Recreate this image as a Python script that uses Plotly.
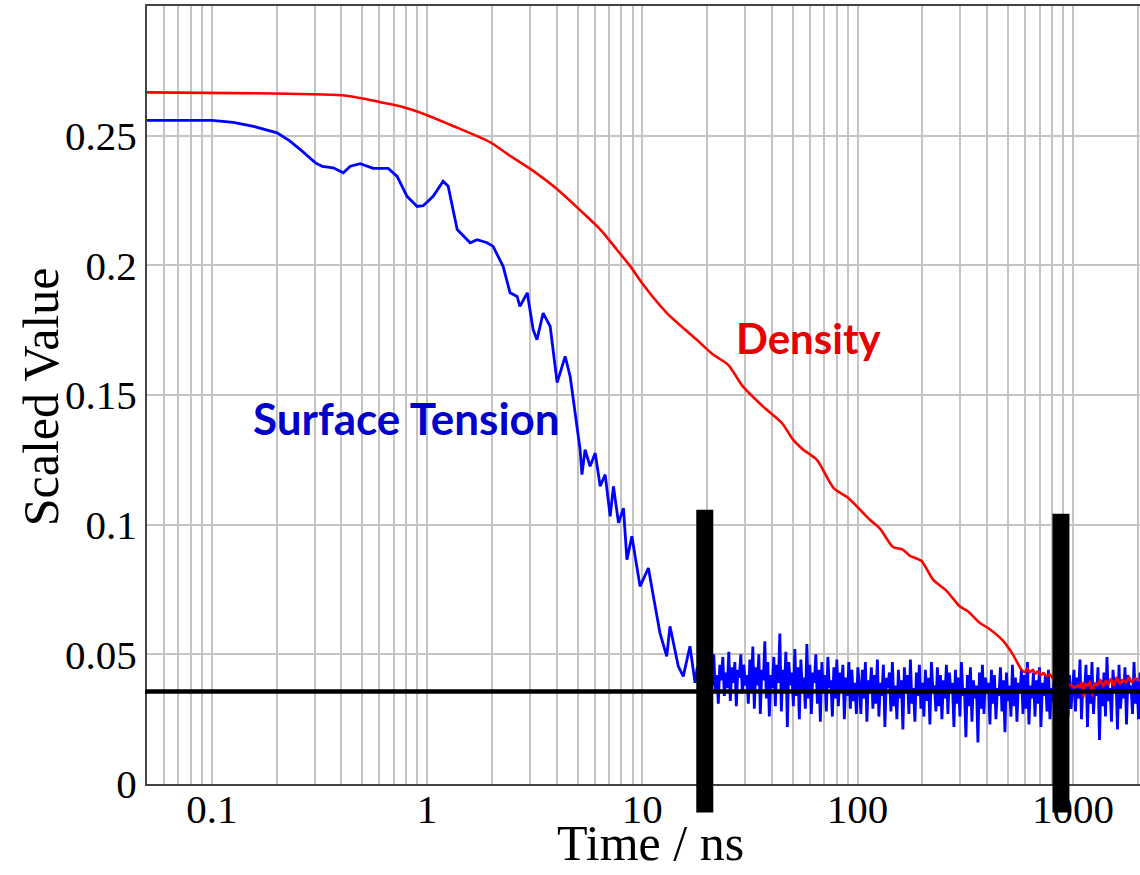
import numpy as np
import plotly.graph_objects as go

# ---------------- data ----------------
# Density (red)
density_t = [0.05, 0.4, 0.49, 0.6, 0.75, 1.0, 1.28, 1.96, 2.43, 3.1, 4.0, 5.1, 6.4, 7.6, 8.8, 10.1,
             13.0, 17.9, 21.3, 25.0, 29.3, 36.3, 44.5, 50.1, 55.7, 64.7, 77.6, 90.2, 114, 127,
             146, 162, 175, 198, 224, 260, 298, 325, 370, 411, 473, 526, 577, 600, 615, 630, 651,
             670, 690, 710, 730, 757, 780, 807, 830, 860, 900, 950, 990, 1020, 1050, 1080, 1100,
             1120, 1140, 1170, 1200, 1230, 1260, 1300, 1340, 1380, 1420, 1460, 1500, 1550, 1600,
             1650, 1700, 1760, 1820, 1880, 1950, 2050]
density_v = [0.2667, 0.2656, 0.2645, 0.2630, 0.2613, 0.2579, 0.2542, 0.2475, 0.2422, 0.2365,
             0.2295, 0.2215, 0.2137, 0.2061, 0.1996, 0.1925, 0.1816, 0.1713, 0.1656, 0.1617,
             0.1533, 0.1456, 0.1392, 0.1328, 0.1290, 0.1250, 0.1140, 0.1104, 0.1019, 0.0985,
             0.0914, 0.0904, 0.0880, 0.0860, 0.0788, 0.0743, 0.0685, 0.0666, 0.0621, 0.0597,
             0.0553, 0.0500, 0.0441, 0.0432, 0.0446, 0.0430, 0.0440, 0.0425, 0.0436, 0.0420,
             0.0428, 0.0415, 0.0424, 0.0409, 0.0420, 0.0400, 0.0395, 0.0385, 0.0378, 0.0372,
             0.0380, 0.0374, 0.0392, 0.0336, 0.0385, 0.0378, 0.0395, 0.0340, 0.0388, 0.0380,
             0.0402, 0.0376, 0.0398, 0.0384, 0.0405, 0.0380, 0.0410, 0.0386, 0.0402, 0.0390,
             0.0412, 0.0392, 0.0408, 0.0395]

# Surface tension (blue): decay part
tension_t = [0.05, 0.1, 0.126, 0.156, 0.201, 0.23, 0.258, 0.303, 0.326, 0.367, 0.408, 0.44, 0.489,
             0.562, 0.66, 0.726, 0.807, 0.899, 0.959, 1.067, 1.188, 1.253, 1.38, 1.585, 1.709,
             1.901, 2.027, 2.255, 2.43, 2.62, 2.70, 2.92, 3.11, 3.24, 3.46, 3.73, 4.02, 4.38,
             4.62, 4.87, 5.14, 5.24, 5.42, 5.72, 6.04, 6.37, 6.72, 7.09, 7.34, 7.75, 8.17, 8.48,
             8.94, 9.76, 10.67, 11.25, 12.08, 12.98, 13.44, 14.69, 15.49, 16.64, 17.57]
tension_v = [0.2559, 0.2559, 0.2551, 0.2536, 0.2511, 0.2480, 0.2446, 0.2395, 0.2382, 0.2376,
             0.2357, 0.2382, 0.2392, 0.2374, 0.2374, 0.2343, 0.2266, 0.2227, 0.2230, 0.2266,
             0.2324, 0.2305, 0.2138, 0.2087, 0.2099, 0.2087, 0.2073, 0.1996, 0.1894, 0.1880,
             0.1842, 0.1894, 0.1752, 0.1713, 0.1816, 0.1765, 0.1548, 0.1649, 0.1572, 0.1431,
             0.1289, 0.1193, 0.1289, 0.1225, 0.1276, 0.1148, 0.1193, 0.1032, 0.1148, 0.1007,
             0.1064, 0.0865, 0.0955, 0.0762, 0.0833, 0.0724, 0.0582, 0.0492, 0.0608, 0.0454,
             0.0415, 0.0531, 0.0390]

# Surface tension (blue): fluctuating plateau, sampled from 18 ns to 2050 ns
plateau_start, plateau_end = 18.0, 2050.0
plateau_v = [
    0.045, 0.039, 0.048, 0.041, 0.036, 0.052, 0.040, 0.044, 0.033, 0.047, 0.038, 0.050, 0.035,
    0.042, 0.031, 0.046, 0.040, 0.049, 0.034, 0.043, 0.037, 0.051, 0.032, 0.045, 0.039, 0.047,
    0.030, 0.044, 0.041, 0.050, 0.035, 0.046, 0.038,
    0.042, 0.031, 0.048, 0.036, 0.053, 0.029, 0.045, 0.038, 0.050, 0.027, 0.044, 0.040, 0.055,
    0.033, 0.047, 0.026, 0.042, 0.037, 0.049, 0.030, 0.046, 0.039, 0.058, 0.028, 0.044, 0.035,
    0.051, 0.022, 0.047, 0.038, 0.043, 0.030, 0.052, 0.034, 0.045, 0.025, 0.048, 0.036, 0.041,
    0.029, 0.054, 0.033, 0.046, 0.027, 0.043, 0.039, 0.050, 0.031, 0.044, 0.024, 0.047, 0.035,
    0.042, 0.028, 0.049, 0.037, 0.040, 0.026, 0.045, 0.033, 0.048, 0.030, 0.043, 0.036, 0.046,
    0.025, 0.041, 0.034, 0.047, 0.029, 0.044, 0.032, 0.039, 0.027, 0.045,
    0.038, 0.027, 0.044, 0.033, 0.047, 0.024, 0.040, 0.035, 0.045, 0.029, 0.042, 0.031, 0.048,
    0.026, 0.039, 0.034, 0.046, 0.022, 0.041, 0.037, 0.043, 0.028, 0.047, 0.030, 0.038, 0.025,
    0.044, 0.033, 0.040, 0.021, 0.045, 0.035, 0.042, 0.027, 0.048, 0.031, 0.037, 0.024, 0.043,
    0.034, 0.046, 0.029, 0.039, 0.026, 0.044, 0.032, 0.041, 0.023, 0.047, 0.036, 0.038, 0.028,
    0.045, 0.030, 0.042, 0.025, 0.040, 0.033, 0.046, 0.027, 0.043, 0.035, 0.039, 0.022, 0.044,
    0.031, 0.041, 0.026, 0.047, 0.034, 0.037, 0.018, 0.042, 0.030, 0.045, 0.024, 0.040, 0.033,
    0.038, 0.016, 0.043, 0.029, 0.046, 0.027, 0.041, 0.035, 0.039, 0.023, 0.044, 0.031, 0.042,
    0.025, 0.037, 0.034, 0.045, 0.028, 0.040, 0.020, 0.043, 0.032, 0.038, 0.026, 0.046, 0.030,
    0.041, 0.024, 0.039, 0.035, 0.044, 0.027, 0.042, 0.029, 0.047, 0.023, 0.038, 0.033, 0.043,
    0.026, 0.040, 0.031, 0.045, 0.022, 0.039, 0.034, 0.042, 0.028, 0.044, 0.025, 0.037, 0.032,
    0.041, 0.027, 0.046, 0.030, 0.038, 0.024, 0.043, 0.033, 0.040, 0.026, 0.042, 0.029, 0.039,
    0.044, 0.028, 0.041, 0.033, 0.048, 0.025, 0.039, 0.035, 0.046, 0.022, 0.042, 0.031, 0.047,
    0.027, 0.038, 0.034, 0.045, 0.017, 0.040, 0.030, 0.043, 0.026, 0.049, 0.032, 0.037, 0.024,
    0.044, 0.035, 0.041, 0.021, 0.046, 0.029, 0.039, 0.033, 0.045, 0.023, 0.042, 0.036, 0.038,
    0.027, 0.047, 0.031, 0.040, 0.025, 0.043,
]

# Reference level and the two marker times
reference_level = 0.0357
marker_times = [19.5, 880]
marker_tops = [0.1058, 0.1042]
marker_bottom = -0.011

# Axis ticks
x_tickvals = [0.06, 0.07, 0.08, 0.09, 0.1, 0.2, 0.3, 0.4, 0.5, 0.6, 0.7, 0.8, 0.9,
              1, 2, 3, 4, 5, 6, 7, 8, 9, 10, 20, 30, 40, 50, 60, 70, 80, 90,
              100, 200, 300, 400, 500, 600, 700, 800, 900, 1000, 2000]
x_labels = {0.1: "0.1", 1: "1", 10: "10", 100: "100", 1000: "1000"}
y_tickvals = [0, 0.05, 0.1, 0.15, 0.2, 0.25, 0.3]
y_ticktext = ["0", "0.05", "0.1", "0.15", "0.2", "0.25", ""]

X_MIN, X_MAX = 0.05, 2050
Y_MIN, Y_MAX = 0.0, 0.3

# ---------------- figure ----------------
plateau_t = np.geomspace(plateau_start, plateau_end, len(plateau_v))
blue_t = list(tension_t) + list(plateau_t)
blue_v = list(tension_v) + list(plateau_v)

fig = go.Figure()
fig.add_trace(go.Scatter(x=blue_t, y=blue_v, mode="lines",
                         line=dict(color="#0000ff", width=2.8), hoverinfo="skip"))
fig.add_trace(go.Scatter(x=density_t, y=density_v, mode="lines",
                         line=dict(color="#ff0000", width=2.6, shape="spline", smoothing=0.7),
                         hoverinfo="skip"))

# horizontal reference line
fig.add_shape(type="line", xref="paper", yref="y", x0=-0.002, x1=1,
              y0=reference_level, y1=reference_level,
              line=dict(color="black", width=4.5), layer="above")
# thick vertical markers
for t, top in zip(marker_times, marker_tops):
    fig.add_shape(type="line", xref="x", yref="paper",
                  x0=t, x1=t, y0=marker_bottom / Y_MAX, y1=top / Y_MAX,
                  line=dict(color="black", width=17), layer="above")

fig.add_annotation(x=np.log10(59.6), y=0.1718, xref="x", yref="y", text="<b>Density</b>",
                   showarrow=False, font=dict(family="Lato", size=42, color="#e60000"))
fig.add_annotation(x=np.log10(0.80), y=0.1410, xref="x", yref="y", text="<b>Surface Tension</b>",
                   showarrow=False, font=dict(family="Lato", size=44, color="#0000cc"))

# axis titles
fig.add_annotation(x=0.507, y=-0.1150, xref="paper", yref="paper", text="Time / ns",
                   showarrow=False, xanchor="center", yanchor="bottom",
                   font=dict(family="Liberation Serif", size=50, color="black"))
fig.add_annotation(x=-0.107, y=0.498, xref="paper", yref="paper", text="Scaled Value",
                   showarrow=False, xanchor="center", yanchor="middle", textangle=-90,
                   font=dict(family="Liberation Serif", size=50, color="black"))

grid = "#c4c4c4"
fig.update_layout(
    width=1140, height=875,
    margin=dict(l=147, r=0, t=6, b=91, autoexpand=False),
    paper_bgcolor="white", plot_bgcolor="white",
    showlegend=False,
    font=dict(family="Liberation Serif", color="black"),
)
fig.update_xaxes(
    type="log", range=[np.log10(X_MIN), np.log10(X_MAX)],
    tickvals=x_tickvals, ticktext=[x_labels.get(v, "") for v in x_tickvals],
    tickfont=dict(size=41, family="Liberation Serif"),
    ticklabelstandoff=-12,
    showgrid=True, gridcolor=grid, gridwidth=2,
    showline=True, linecolor="#444", linewidth=2, mirror=True,
    ticks="", zeroline=False, automargin=False,
)
fig.update_yaxes(
    range=[Y_MIN, Y_MAX],
    tickvals=y_tickvals, ticktext=y_ticktext,
    tickfont=dict(size=41, family="Liberation Serif"),
    showgrid=True, gridcolor=grid, gridwidth=2,
    showline=True, linecolor="#444", linewidth=2,
    ticks="", zeroline=False, automargin=False,
)

fig.write_html("out.html")
